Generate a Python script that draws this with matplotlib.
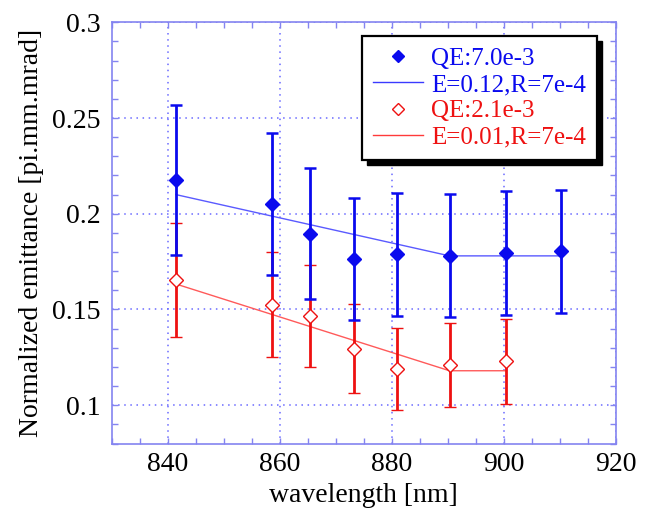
import matplotlib
matplotlib.use("Agg")
import matplotlib.pyplot as plt
from matplotlib.patches import Rectangle
from matplotlib.transforms import IdentityTransform
from matplotlib.ticker import MultipleLocator
import numpy as np

plt.rcParams['font.family'] = ['Liberation Serif', 'DejaVu Serif']

# Data
wl_blue = [841.5, 858.6, 865.5, 873.3, 881.0, 890.3, 900.4, 910.2]
em_blue = [0.2177, 0.2051, 0.1896, 0.1762, 0.1790, 0.1780, 0.1795, 0.1804]
hi_blue = [0.2568, 0.2420, 0.2238, 0.2081, 0.2111, 0.2101, 0.2119, 0.2124]
lo_blue = [0.1783, 0.1680, 0.1553, 0.1444, 0.1465, 0.1460, 0.1470, 0.1480]

wl_red = [841.5, 858.6, 865.5, 873.3, 881.0, 890.3, 900.4]
em_red = [0.1653, 0.1525, 0.1466, 0.1296, 0.1190, 0.1212, 0.1229]
hi_red = [0.1950, 0.1801, 0.1731, 0.1529, 0.1404, 0.1430, 0.1450]
lo_red = [0.1355, 0.1252, 0.1200, 0.1063, 0.0974, 0.0993, 0.1007]

fit_blue_x = [841.5, 890.3, 910.2]
fit_blue_y = [0.2100, 0.1780, 0.1780]
fit_red_x = [841.5, 890.3, 900.4]
fit_red_y = [0.1633, 0.1180, 0.1180]

labels = ["QE:7.0e-3", "E=0.12,R=7e-4", "QE:2.1e-3", "E=0.01,R=7e-4"]

BLUE = '#0a0aee'
RED = '#ee1111'
AXC = '#8484f0'

fig = plt.figure(figsize=(6.45, 5.09), dpi=100)
ax = fig.add_axes([111.5/645, 1-443.5/509, (616-111.5)/645, (443.5-22.3)/509])

ax.set_xlim(830, 920)
ax.set_ylim(0.08, 0.3)
ax.xaxis.set_major_locator(MultipleLocator(20))
ax.xaxis.set_minor_locator(MultipleLocator(5))
ax.yaxis.set_minor_locator(MultipleLocator(0.01))
ax.set_yticks([0.1, 0.15, 0.2, 0.25, 0.3])
ax.set_yticklabels(['0.1', '0.15', '0.2', '0.25', '0.3'])

for s in ax.spines.values():
    s.set_color(AXC)
    s.set_linewidth(1.2)
ax.tick_params(which='both', direction='in', top=True, right=True,
               color=AXC, length=4, width=1, labelsize=20)
ax.tick_params(axis='x', pad=6)
ax.tick_params(axis='y', pad=8)
ax.grid(True, which='major', color='#6a6aff', linestyle=(0, (1, 3)), linewidth=1.1)
ax.set_axisbelow(True)

yerr_b = [np.array(em_blue) - np.array(lo_blue), np.array(hi_blue) - np.array(em_blue)]
yerr_r = [np.array(em_red) - np.array(lo_red), np.array(hi_red) - np.array(em_red)]

ax.plot(fit_blue_x, fit_blue_y, color='#5a5aff', lw=1.0, zorder=2)
ax.plot(fit_red_x, fit_red_y, color='#ff5a5a', lw=1.0, zorder=2)

ax.errorbar(wl_red, em_red, yerr=yerr_r, fmt='D', color=RED, mfc='white', mec=RED,
            ms=7, mew=1.0, elinewidth=2.0, capsize=4.5, capthick=1.8, zorder=3)
ax.errorbar(wl_blue, em_blue, yerr=yerr_b, fmt='D', color=BLUE, mfc=BLUE, mec=BLUE,
            ms=7, elinewidth=2.0, capsize=4.5, capthick=1.8, zorder=4)

ax.set_ylabel('Normalized emittance [pi.mm.mrad]', fontsize=20)
ax.yaxis.set_label_coords(-0.134, 0.5)
ax.set_xlabel('wavelength [nm]', fontsize=20)
ax.xaxis.set_label_coords(0.5, -0.094)

h1, = ax.plot([], [], 'D', color=BLUE, ms=6)
h2, = ax.plot([], [], '-', color='#3a3aff', lw=1.0)
h3, = ax.plot([], [], 'D', color=RED, mfc='white', ms=6, mew=1.0)
h4, = ax.plot([], [], '-', color='#ff3a3a', lw=1.0)

leg = ax.legend([h1, h2, h3, h4], labels, loc='upper right',
                bbox_to_anchor=(597/645, 1-36/509), bbox_transform=fig.transFigure,
                fontsize=18, frameon=True, fancybox=False, framealpha=1,
                borderaxespad=0, handlelength=2.0, handletextpad=0.3,
                labelspacing=0.15, borderpad=0.45)
leg.get_frame().set_edgecolor('black')
leg.get_frame().set_linewidth(1.6)
leg.get_frame().set_facecolor('white')
leg.set_zorder(6)
for t, c in zip(leg.get_texts(), [BLUE, BLUE, RED, RED]):
    t.set_color(c)

fig.canvas.draw()
bb = leg.get_frame().get_window_extent()
off = 5
sh = Rectangle((bb.x0 + off, bb.y0 - off), bb.width, bb.height,
               transform=IdentityTransform(), facecolor='black', edgecolor='black',
               zorder=5.9, clip_on=False)
ax.add_artist(sh)

fig.savefig('out.png', dpi=100)
